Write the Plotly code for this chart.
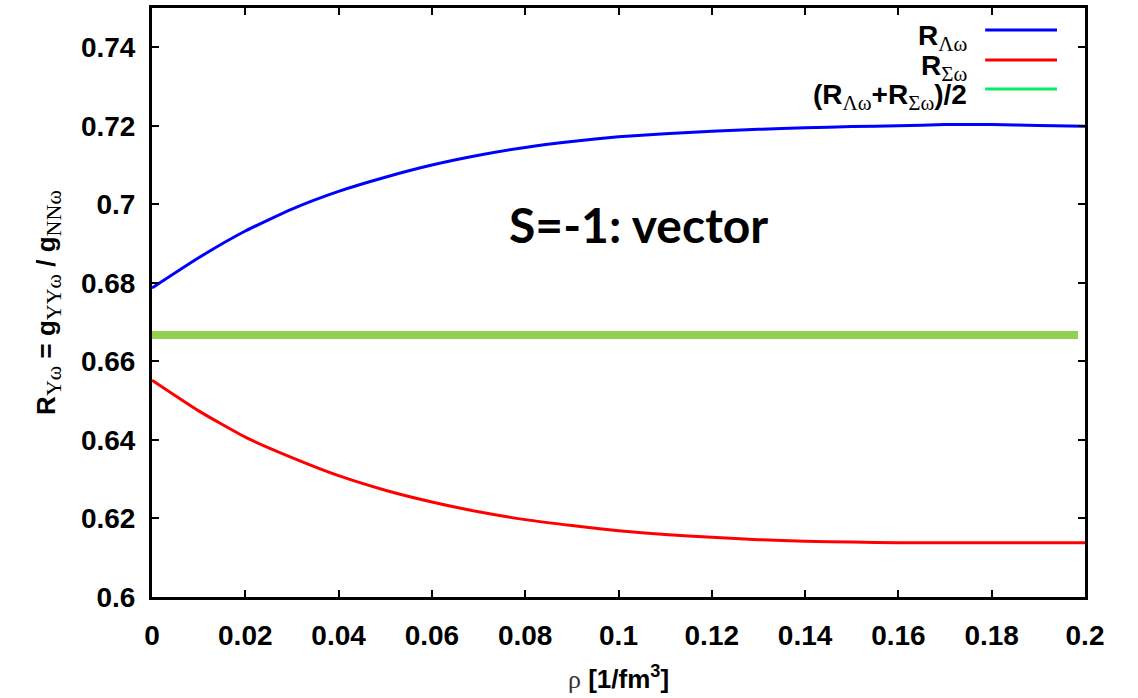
import plotly.graph_objects as go

# density grid [1/fm^3]
rho = [0.0, 0.01, 0.02, 0.03, 0.04, 0.05, 0.06, 0.07, 0.08, 0.09, 0.10,
       0.11, 0.12, 0.13, 0.14, 0.15, 0.16, 0.17, 0.18, 0.19, 0.20]

# coupling ratios R_{Lambda omega} and R_{Sigma omega}
r_lambda = [0.6787, 0.6864, 0.6932, 0.6988, 0.7033, 0.7069, 0.7100,
            0.7125, 0.7145, 0.7160, 0.7172, 0.7180, 0.7186, 0.7191, 0.7195,
            0.7198, 0.7200, 0.7203, 0.7203, 0.7201, 0.7199]
r_sigma = [0.6552, 0.6474, 0.6407, 0.6355, 0.6309, 0.6272, 0.6242,
           0.6217, 0.6197, 0.6182, 0.6169, 0.6159, 0.6152, 0.6146, 0.6142,
           0.6140, 0.6138, 0.6138, 0.6138, 0.6138, 0.6138]

# average (R_L + R_S)/2 drawn as a flat band
avg_rho = [0.0, 0.1985]
avg_val = [0.6667, 0.6667]

x_ticks = [0, 0.02, 0.04, 0.06, 0.08, 0.1, 0.12, 0.14, 0.16, 0.18, 0.2]
x_tick_text = ["0", "0.02", "0.04", "0.06", "0.08", "0.1", "0.12", "0.14", "0.16", "0.18", "0.2"]
y_ticks = [0.6, 0.62, 0.64, 0.66, 0.68, 0.7, 0.72, 0.74]
y_tick_text = ["0.6", "0.62", "0.64", "0.66", "0.68", "0.7", "0.72", "0.74"]


def sub(txt, size=21):
    style = f"font-family:'Liberation Serif';font-weight:normal;font-size:{size}px"
    return f"<sub><span style=\"{style}\">{txt}</span></sub>"


legend_items = [
    ("R" + sub("Λω"), "#0000ff"),
    ("R" + sub("Σω"), "#ff0000"),
    ("(R" + sub("Λω") + "+R" + sub("Σω") + ")/2", "#00ee66"),
]

fig = go.Figure()
fig.add_trace(go.Scatter(x=avg_rho, y=avg_val, mode="lines",
                         line=dict(color="#92d050", width=8), showlegend=False))
fig.add_trace(go.Scatter(x=rho, y=r_lambda, mode="lines",
                         line=dict(color="#0000ff", width=3, shape="spline", smoothing=0.5),
                         showlegend=False))
fig.add_trace(go.Scatter(x=rho, y=r_sigma, mode="lines",
                         line=dict(color="#ff0000", width=3, shape="spline", smoothing=0.5),
                         showlegend=False))

# key in the upper right corner: label on the left, line sample on the right
key_y = [0.9627, 0.9117, 0.8625]
for (label, color), yk in zip(legend_items, key_y):
    fig.add_shape(type="line", xref="paper", yref="paper",
                  x0=0.893, x1=0.970, y0=yk, y1=yk,
                  line=dict(color=color, width=3))
    fig.add_annotation(text=label, xref="paper", yref="paper",
                       x=0.876, y=yk - 0.014, xanchor="right", yanchor="middle",
                       showarrow=False,
                       font=dict(family="Liberation Sans", size=28, color="black", weight="bold"))

fig.add_annotation(text="S=-1: vector", xref="paper", yref="paper",
                   x=0.521, y=0.633, xanchor="center", yanchor="middle",
                   showarrow=False,
                   font=dict(family="Lato", size=48, color="black", weight="bold"))

axis_common = dict(showline=True, linecolor="black", linewidth=3,
                   mirror="ticks", ticks="inside", ticklen=7, tickwidth=2,
                   tickcolor="black", showgrid=False, zeroline=False,
                   automargin=False)

serif_rho = "<span style=\"font-family:'Liberation Serif';font-weight:normal;fill:#333333\">ρ</span>"
fig.update_xaxes(range=[0, 0.2], tickvals=x_ticks, ticktext=x_tick_text,
                 ticklabelstandoff=11,
                 title=dict(text=serif_rho + " [1/fm<sup>3</sup>]",
                            standoff=21,
                            font=dict(family="Liberation Sans", size=26, color="black", weight="bold")),
                 **axis_common)
fig.update_yaxes(range=[0.6, 0.75], tickvals=y_ticks, ticktext=y_tick_text,
                 ticklabelstandoff=8,
                 title=dict(text="R" + sub("Yω", 22) + " = g" + sub("YYω", 22) + " / g" + sub("NNω", 22),
                            standoff=18,
                            font=dict(family="Liberation Sans", size=26, color="black", weight="bold")),
                 **axis_common)

fig.update_layout(
    width=1138, height=698,
    margin=dict(l=152, r=53, t=8, b=101),
    paper_bgcolor="white", plot_bgcolor="white",
    font=dict(family="Liberation Sans", size=28, color="black", weight="bold"),
)

fig.write_html("out.html")
